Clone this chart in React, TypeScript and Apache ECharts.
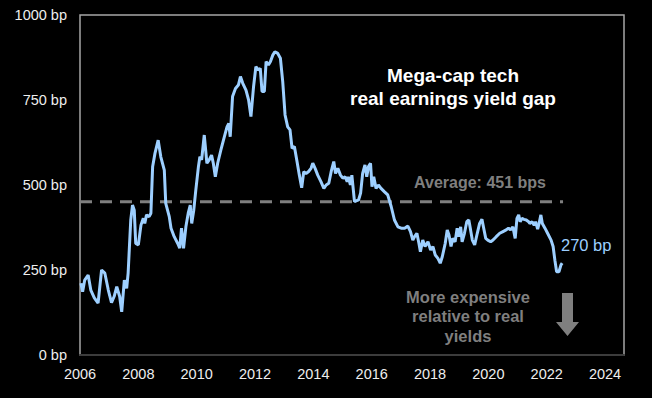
import React, { useEffect, useRef } from "react";
import * as echarts from "echarts";

// Decimal year of each observation
const years: number[] = [
  2006.03, 2006.09, 2006.16, 2006.28, 2006.37, 2006.49, 2006.62, 2006.74, 2006.85, 2006.97,
  2007.08, 2007.17, 2007.26, 2007.36, 2007.43, 2007.52, 2007.6, 2007.65, 2007.74, 2007.8,
  2007.86, 2007.91, 2008.0, 2008.09, 2008.17, 2008.22, 2008.28, 2008.37, 2008.43, 2008.49,
  2008.57, 2008.68, 2008.77, 2008.89, 2008.94, 2009.06, 2009.12, 2009.23, 2009.35, 2009.42,
  2009.48, 2009.55, 2009.63, 2009.71, 2009.78, 2009.83, 2009.9, 2009.97, 2010.06, 2010.11,
  2010.17, 2010.26, 2010.35, 2010.43, 2010.51, 2010.57, 2010.64, 2010.72, 2010.83, 2010.95,
  2011.04, 2011.1, 2011.15, 2011.23, 2011.33, 2011.43, 2011.5, 2011.58, 2011.69, 2011.78,
  2011.86, 2011.95, 2012.03, 2012.12, 2012.18, 2012.24, 2012.32, 2012.38, 2012.46, 2012.53,
  2012.61, 2012.68, 2012.78, 2012.87, 2012.95, 2013.03, 2013.12, 2013.2, 2013.27, 2013.35,
  2013.44, 2013.52, 2013.6, 2013.67, 2013.75, 2013.83, 2013.92, 2013.98, 2014.06, 2014.15,
  2014.26, 2014.36, 2014.44, 2014.53, 2014.61, 2014.7, 2014.76, 2014.84, 2014.93, 2015.01,
  2015.09, 2015.16, 2015.2, 2015.27, 2015.32, 2015.41, 2015.55, 2015.62, 2015.69, 2015.77,
  2015.83, 2015.89, 2015.96, 2016.01, 2016.07, 2016.15, 2016.23, 2016.32, 2016.44, 2016.55,
  2016.67, 2016.78, 2016.9, 2017.01, 2017.13, 2017.24, 2017.33, 2017.41, 2017.47, 2017.55,
  2017.62, 2017.67, 2017.75, 2017.83, 2017.93, 2018.02, 2018.1, 2018.18, 2018.27, 2018.35,
  2018.42, 2018.52, 2018.59, 2018.65, 2018.72, 2018.78, 2018.86, 2018.93, 2018.99, 2019.05,
  2019.1, 2019.18, 2019.26, 2019.33, 2019.39, 2019.45, 2019.53, 2019.62, 2019.7, 2019.78,
  2019.84, 2019.91, 2019.98, 2020.08, 2020.16, 2020.27, 2020.39, 2020.5, 2020.61, 2020.69,
  2020.76, 2020.84, 2020.92, 2020.98, 2021.04, 2021.09, 2021.15, 2021.22, 2021.3, 2021.38,
  2021.42, 2021.5, 2021.57, 2021.62, 2021.69, 2021.74, 2021.8, 2021.85, 2021.94, 2022.03,
  2022.15, 2022.22, 2022.28, 2022.34, 2022.42, 2022.49, 2022.53,
];

// Mega-cap tech real earnings yield gap, bp
const gapBp: number[] = [
  211, 186, 220, 235, 191, 168, 153, 250, 241, 191,
  154, 172, 201, 172, 127, 220, 196, 241, 397, 441,
  426, 328, 324, 382, 402, 387, 412, 407, 417, 554,
  593, 632, 583, 544, 446, 407, 373, 348, 328, 314,
  373, 314, 377, 417, 441, 387, 426, 485, 554, 583,
  574, 647, 564, 574, 588, 564, 524, 564, 603, 642,
  671, 681, 642, 760, 784, 794, 819, 799, 779, 750,
  701, 789, 848, 838, 843, 775, 775, 863, 853, 863,
  882, 892, 887, 873, 804, 706, 671, 662, 608, 613,
  569, 529, 492, 539, 534, 539, 549, 564, 549, 529,
  510, 490, 500, 505, 539, 569, 534, 549, 529, 520,
  524, 510, 524, 500, 529, 451, 456, 476, 534, 559,
  524, 554, 564, 495, 524, 490, 500, 490, 480, 471,
  436, 397, 377, 373, 373, 379, 363, 338, 348, 358,
  328, 304, 338, 319, 333, 309, 319, 294, 284, 270,
  289, 328, 368, 353, 319, 343, 333, 373, 348, 377,
  333, 358, 392, 397, 368, 338, 324, 358, 387, 399,
  373, 343, 338, 333, 338, 348, 358, 363, 368, 373,
  368, 377, 343, 402, 412, 392, 402, 399, 397, 392,
  387, 392, 382, 392, 370, 387, 412, 387, 373, 358,
  338, 319, 279, 245, 245, 265, 270,
];

const averageBp = 451;
const averageSpan: number[] = [2006, 2022.56];

const yTicks: number[] = [0, 250, 500, 750, 1000];
const xTickYears: number[] = [2006, 2008, 2010, 2012, 2014, 2016, 2018, 2020, 2022, 2024];

const titleLines: string[] = ["Mega-cap tech", "real earnings yield gap"];
const averageLabel = "Average: 451 bps";
const lastLabel = "270 bp";
const noteLines: string[] = ["More expensive", "relative to real", "yields"];

const FONT = "'Liberation Sans', Arial, sans-serif";
const BLUE = "#9dcfff";
const GREY = "#7f7f7f";

export default function App() {
  const ref = useRef<HTMLDivElement>(null);

  useEffect(() => {
    if (!ref.current) return;
    document.body.style.margin = "0";
    document.body.style.background = "#000";
    const chart = echarts.init(ref.current, undefined, { renderer: "svg" });
    const lineData = years.map((y, i) => [y, gapBp[i]]);
    const avgData = averageSpan.map((y) => [y, averageBp]);

    chart.setOption({
      animation: false,
      backgroundColor: "#000000",
      textStyle: { fontFamily: FONT },
      grid: {
        left: 80,
        right: 28,
        top: 15,
        bottom: 43,
        show: true,
        borderColor: "#a6a6a6",
        borderWidth: 1.5,
        backgroundColor: "#000000",
      },
      xAxis: {
        type: "value",
        min: 2006,
        max: 2024.65,
        interval: 2,
        axisLine: { show: true, lineStyle: { color: "#3c3c3c", width: 2 } },
        axisTick: { show: false },
        splitLine: { show: false },
        axisLabel: {
          color: "#eeeeee",
          fontSize: 14.5,
          fontFamily: FONT,
          margin: 11,
          formatter: (v: number) =>
            xTickYears.includes(Math.round(v)) && Math.abs(v - Math.round(v)) < 1e-6
              ? String(Math.round(v))
              : "",
        },
      },
      yAxis: {
        type: "value",
        min: yTicks[0],
        max: yTicks[yTicks.length - 1],
        interval: 250,
        axisLine: { show: false },
        axisTick: { show: false },
        splitLine: { show: false },
        axisLabel: {
          color: "#eeeeee",
          fontSize: 14.5,
          fontFamily: FONT,
          margin: 13,
          formatter: (v: number) => `${v} bp`,
        },
      },
      series: [
        {
          type: "line",
          data: avgData,
          symbol: "none",
          silent: true,
          lineStyle: { color: GREY, width: 3, type: [12, 8] },
          z: 1,
        },
        {
          type: "line",
          data: lineData,
          symbol: "none",
          lineStyle: { color: BLUE, width: 3 },
          z: 2,
        },
      ],
      graphic: [
        {
          type: "text",
          x: 453,
          y: 87,
          style: {
            text: titleLines.join("\n"),
            fill: "#ffffff",
            font: `bold 19px ${FONT}`,
            align: "center",
            verticalAlign: "middle",
            lineHeight: 23,
          },
        },
        {
          type: "text",
          x: 480,
          y: 182,
          style: {
            text: averageLabel,
            fill: GREY,
            font: `bold 16px ${FONT}`,
            align: "center",
            verticalAlign: "middle",
          },
        },
        {
          type: "text",
          x: 561,
          y: 245,
          style: {
            text: lastLabel,
            fill: BLUE,
            font: `16.5px ${FONT}`,
            align: "left",
            verticalAlign: "middle",
          },
        },
        {
          type: "text",
          x: 468,
          y: 316,
          style: {
            text: noteLines.join("\n"),
            fill: GREY,
            font: `bold 16.5px ${FONT}`,
            align: "center",
            verticalAlign: "middle",
            lineHeight: 19.5,
          },
        },
        {
          type: "polygon",
          shape: {
            points: [
              [562, 293],
              [573, 293],
              [573, 322],
              [579, 322],
              [567.5, 336],
              [556, 322],
              [562, 322],
            ],
          },
          style: { fill: GREY },
        },
      ],
    });
    return () => chart.dispose();
  }, []);

  return (
    <div
      ref={ref}
      style={{ position: "fixed", left: 0, top: 0, width: 652, height: 398, background: "#000" }}
    />
  );
}
